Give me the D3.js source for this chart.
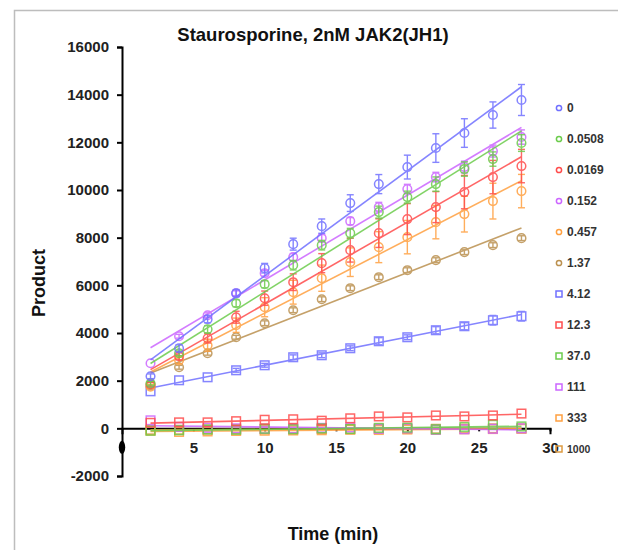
<!DOCTYPE html>
<html>
<head>
<meta charset="utf-8">
<script src="https://cdn.jsdelivr.net/npm/d3@7"></script>
<style>
body { margin: 0; background: #fff; }
svg { font-family: "Liberation Sans", Arial, sans-serif; }
.axis text { font-size: 15px; font-weight: bold; fill: #222; }
.axis path, .axis line { stroke: #000; stroke-width: 2; }
</style>
</head>
<body>
<svg width="618" height="550"></svg>
<script>
//data//
var times = [2, 4, 6, 8, 10, 12, 14, 16, 18, 20, 22, 24, 26, 28];

var concLabels = ["0", "0.0508", "0.0169", "0.152", "0.457", "1.37",
                  "4.12", "12.3", "37.0", "111", "333", "1000"];

var conc0      = [2184, 3360, 4578, 5670, 6720, 7728, 8484, 9450, 10248, 10962, 11760, 12390, 13146, 13776];
var conc0_0508 = [1890, 3150, 4158, 5250, 6048, 6846, 7686, 8190, 9072, 9702, 10248, 10878, 11298, 11970];
var conc0_0169 = [1850, 3024, 3780, 4662, 5460, 6132, 6930, 7476, 8190, 8778, 9282, 9912, 10542, 11004];
var conc0_152  = [2730, 3864, 4746, 5670, 6510, 7182, 7980, 8694, 9282, 10038, 10542, 10962, 11634, 12222];
var conc0_457  = [1750, 2856, 3486, 4326, 5082, 5712, 6300, 6972, 7602, 8022, 8652, 8988, 9534, 9954];
var conc1_37   = [1800, 2562, 3150, 3822, 4410, 4956, 5418, 5880, 6342, 6636, 7056, 7392, 7686, 7980];
var conc4_12   = [1554, 2016, 2142, 2436, 2646, 2982, 3066, 3360, 3654, 3822, 4116, 4284, 4536, 4704];
var conc12_3   = [230, 250, 250, 300, 360, 380, 320, 420, 500, 460, 540, 500, 540, 620];
var conc37_0   = [-100, -80, -50, -60, -20, -40, 0, -30, 20, 30, -40, 60, 150, 80];
var conc111    = [336, 60, 20, 0, -20, 0, 20, 40, -20, 0, -60, -40, -20, 0];
var conc333    = [-100, -150, -130, -110, -100, -90, -80, -60, -70, -50, -60, -40, -30, -20];
var conc1000   = [-60, -60, -50, -40, -40, -30, -30, -30, -20, -20, -20, -10, 0, 0];

//error bars (sd)//
var err0      = [100, 150, 150, 150, 200, 250, 300, 350, 400, 500, 600, 600, 550, 650];
var err0_0508 = [80, 100, 150, 150, 150, 200, 200, 200, 250, 250, 300, 300, 300, 350];
var err0_0169 = [80, 150, 200, 250, 300, 350, 400, 500, 600, 650, 650, 700, 700, 700];
var err0_152  = [60, 80, 100, 100, 120, 150, 150, 150, 200, 200, 200, 250, 250, 300];
var err0_457  = [80, 150, 250, 300, 400, 500, 550, 600, 650, 700, 700, 750, 750, 700];
var err1_37   = [50, 80, 80, 80, 100, 100, 100, 100, 100, 100, 100, 100, 100, 100];
var err4_12   = [50, 50, 60, 80, 80, 100, 100, 100, 150, 100, 150, 150, 200, 200];
var err12_3   = [40, 40, 40, 40, 50, 50, 50, 50, 60, 60, 60, 60, 60, 60];
var err37_0   = [30, 30, 30, 30, 30, 30, 30, 30, 40, 40, 40, 40, 40, 40];
var err111    = [40, 30, 30, 30, 30, 30, 30, 30, 30, 30, 30, 30, 30, 30];
var err333    = [40, 40, 30, 30, 30, 30, 30, 30, 30, 30, 30, 30, 30, 30];
var err1000   = [20, 20, 20, 20, 20, 20, 20, 20, 20, 20, 20, 20, 20, 20];

var yTicks = [-2000, 0, 2000, 4000, 6000, 8000, 10000, 12000, 14000, 16000];
var xTicks = [5, 10, 15, 20, 25, 30];

var colors = ["#7070ff", "#6ccc4c", "#ff4c4c", "#cc66ff", "#ffa040", "#bb9150",
              "#7070ff", "#ff4c4c", "#6ccc4c", "#cc66ff", "#ffa040", "#dd9a40"];
var shapes = ["circle", "circle", "circle", "circle", "circle", "circle",
              "square", "square", "square", "square", "square", "square"];

var values = [conc0, conc0_0508, conc0_0169, conc0_152, conc0_457, conc1_37,
              conc4_12, conc12_3, conc37_0, conc111, conc333, conc1000];
var errors = [err0, err0_0508, err0_0169, err0_152, err0_457, err1_37,
              err4_12, err12_3, err37_0, err111, err333, err1000];

var series = concLabels.map(function(c, i)
             {
               return {label: c, color: colors[i], shape: shapes[i],
                       points: times.map(function(t, j) { return {t: t, v: values[i][j], e: errors[i][j]}; })};
             });

//variables//
var margins = {top: 47, left: 122};
var plotW = 428;
var plotH = 429;

var svg = d3.select("svg");

var x = d3.scaleLinear().domain([0, 30]).range([margins.left, margins.left + plotW]);
var y = d3.scaleLinear().domain([-2000, 16000]).range([margins.top + plotH, margins.top]);

//frame//
svg.append("path")
   .attr("d", "M14.5,560 L14.5,10.5 L630,10.5")
   .attr("fill", "none")
   .attr("stroke", "#bdbdbd")
   .attr("stroke-width", 1.5);

//title//
svg.append("text")
   .attr("x", 313)
   .attr("y", 41)
   .attr("text-anchor", "middle")
   .style("font-size", "18.5px")
   .style("font-weight", "bold")
   .style("fill", "#111")
   .text("Staurosporine, 2nM JAK2(JH1)");

//axes//
svg.append("g")
   .attr("class", "axis")
   .attr("transform", "translate(" + margins.left + ",0)")
   .call(d3.axisLeft(y).tickValues(yTicks)
           .tickFormat(function(d) { return String(d); })
           .tickSize(5).tickSizeOuter(5).tickPadding(8));

svg.append("g")
   .attr("class", "axis")
   .attr("transform", "translate(0," + y(0) + ")")
   .call(d3.axisBottom(x).tickValues(xTicks).tickSize(3).tickSizeOuter(6).tickPadding(11));

//the hidden x "0" label//
svg.append("ellipse")
   .attr("cx", x(0))
   .attr("cy", y(0) + 19)
   .attr("rx", 3.2)
   .attr("ry", 6.5)
   .attr("fill", "#000");

//axis titles//
svg.append("text")
   .attr("transform", "translate(45,283) rotate(-90)")
   .attr("text-anchor", "middle")
   .style("font-size", "18px")
   .style("font-weight", "bold")
   .style("fill", "#111")
   .text("Product");

svg.append("text")
   .attr("x", 333)
   .attr("y", 540)
   .attr("text-anchor", "middle")
   .style("font-size", "18px")
   .style("font-weight", "bold")
   .style("fill", "#111")
   .text("Time (min)");

//least squares fit per series//
var fit = function(points)
          {
            var n = points.length;
            var mt = d3.mean(points, function(p) { return p.t; });
            var mv = d3.mean(points, function(p) { return p.v; });
            var sxy = d3.sum(points, function(p) { return (p.t - mt) * (p.v - mv); });
            var sxx = d3.sum(points, function(p) { return (p.t - mt) * (p.t - mt); });
            var slope = sxy / sxx;
            var t0 = points[0].t, t1 = points[n - 1].t;
            return [{t: t0, v: mv + slope * (t0 - mt)}, {t: t1, v: mv + slope * (t1 - mt)}];
          };

var line = d3.line()
             .x(function(d) { return x(d.t); })
             .y(function(d) { return y(d.v); });

var groups = svg.selectAll("g.series")
                .data(series.slice().reverse())
                .enter()
                .append("g")
                .attr("class", "series")
                .attr("opacity", 0.85);

groups.append("path")
      .attr("d", function(d) { return line(fit(d.points)); })
      .attr("fill", "none")
      .attr("stroke", function(d) { return d.color; })
      .attr("stroke-width", 1.6);

//error bars and markers//
groups.each(function(s)
       {
         var g = d3.select(this);
         var bars = g.selectAll("g.err")
                     .data(s.points.filter(function(p) { return p.e > 60; }))
                     .enter()
                     .append("g")
                     .attr("class", "err")
                     .attr("stroke", s.color)
                     .attr("stroke-width", 1.4);
         bars.append("line")
             .attr("x1", function(p) { return x(p.t); })
             .attr("x2", function(p) { return x(p.t); })
             .attr("y1", function(p) { return y(p.v - p.e); })
             .attr("y2", function(p) { return y(p.v + p.e); });
         bars.append("line")
             .attr("x1", function(p) { return x(p.t) - 3.5; })
             .attr("x2", function(p) { return x(p.t) + 3.5; })
             .attr("y1", function(p) { return y(p.v + p.e); })
             .attr("y2", function(p) { return y(p.v + p.e); });
         bars.append("line")
             .attr("x1", function(p) { return x(p.t) - 3.5; })
             .attr("x2", function(p) { return x(p.t) + 3.5; })
             .attr("y1", function(p) { return y(p.v - p.e); })
             .attr("y2", function(p) { return y(p.v - p.e); });

         var marks = g.selectAll(".mark")
                      .data(s.points)
                      .enter();
         if (s.shape == "circle")
         {
           marks.append("circle")
                .attr("class", "mark")
                .attr("cx", function(p) { return x(p.t); })
                .attr("cy", function(p) { return y(p.v); })
                .attr("r", 4.3)
                .attr("fill", "none")
                .attr("stroke", s.color)
                .attr("stroke-width", 1.5);
         }
         else
         {
           marks.append("rect")
                .attr("class", "mark")
                .attr("x", function(p) { return x(p.t) - 4.3; })
                .attr("y", function(p) { return y(p.v) - 4.3; })
                .attr("width", 8.6)
                .attr("height", 8.6)
                .attr("fill", "none")
                .attr("stroke", s.color)
                .attr("stroke-width", 1.5);
         }
       });

//legend//
var legend = svg.append("g")
                .attr("transform", "translate(559,108)");

var items = legend.selectAll("g")
                  .data(series)
                  .enter()
                  .append("g")
                  .attr("transform", function(d, i) { return "translate(0," + (i * 31) + ")"; });

items.filter(function(d) { return d.shape == "circle"; })
     .append("circle")
     .attr("r", 2.6)
     .attr("fill", "none")
     .attr("stroke", function(d) { return d.color; })
     .attr("stroke-width", 1.5);

items.filter(function(d) { return d.shape == "square"; })
     .append("rect")
     .attr("x", -3)
     .attr("y", -3)
     .attr("width", 6)
     .attr("height", 6)
     .attr("fill", "none")
     .attr("stroke", function(d) { return d.color; })
     .attr("stroke-width", 1.5);

items.append("text")
     .attr("x", 8)
     .attr("dy", "0.36em")
     .style("font-size", function(d) { return d.label == "1000" ? "10.5px" : "12px"; })
     .style("font-weight", "bold")
     .style("fill", "#333")
     .text(function(d) { return d.label; });
</script>
</body>
</html>
